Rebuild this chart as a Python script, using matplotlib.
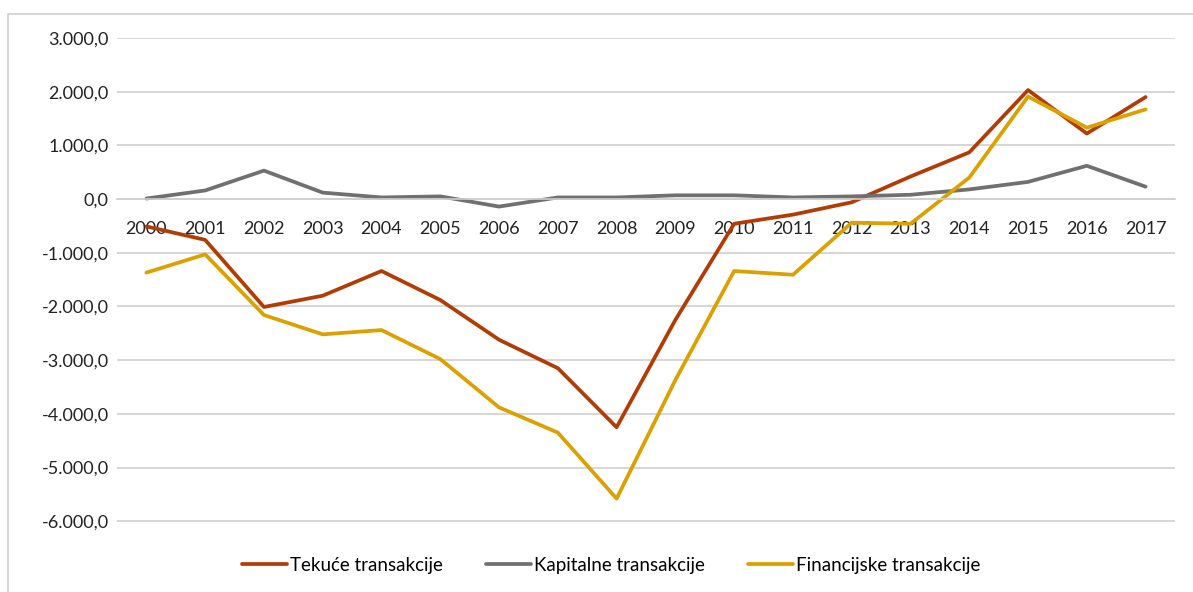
import matplotlib.pyplot as plt
from matplotlib.ticker import FuncFormatter
from matplotlib.patches import Rectangle

plt.rcParams['font.family'] = ['Lato', 'DejaVu Sans']

# data
years = [str(y) for y in range(2000, 2018)]
tekuce = [-510, -760, -2010, -1800, -1340, -1880, -2620, -3150, -4250, -2250,
          -460, -290, -60, 420, 870, 2030, 1220, 1900]
kapitalne = [10, 160, 530, 120, 30, 50, -140, 30, 30, 70,
             70, 30, 50, 80, 180, 320, 620, 230]
financijske = [-1370, -1030, -2160, -2520, -2440, -2980, -3880, -4350, -5580, -3370,
               -1340, -1410, -440, -460, 400, 1910, 1330, 1670]
labels = ['Tekuće transakcije', 'Kapitalne transakcije', 'Financijske transakcije']
colors = ['#B23C05', '#707070', '#DBA100']


def fmt(v, pos):
    s = '{:,.1f}'.format(v)
    return s.replace(',', 'X').replace('.', ',').replace('X', '.')


fig = plt.figure(figsize=(11.93, 5.92), dpi=100)
ax = fig.add_axes([117 / 1193, 1 - 522 / 592, 1058 / 1193, 484 / 592])

x = range(len(years))
for vals, lab, c in zip([tekuce, kapitalne, financijske], labels, colors):
    ax.plot(x, vals, color=c, lw=2.7, label=lab, solid_capstyle='round')

ax.set_xlim(-0.5, len(years) - 0.5)
ax.set_ylim(-6015, 3000)
ax.set_yticks(range(-6000, 3001, 1000))
ax.yaxis.set_major_formatter(FuncFormatter(fmt))
ax.set_xticks(list(x))
ax.set_xticklabels(years)
ax.grid(axis='y', color='#CFCFCF', lw=1.2)
ax.set_axisbelow(True)

for s in ['top', 'right', 'left']:
    ax.spines[s].set_visible(False)
ax.spines['bottom'].set_position(('data', 0))
ax.spines['bottom'].set_color('#CFCFCF')
ax.spines['bottom'].set_linewidth(1.2)
ax.tick_params(axis='x', length=0, pad=16, labelsize=13, colors='#222222')
ax.tick_params(axis='y', length=0, pad=6, labelsize=13, colors='#222222')

fig.legend(loc='center', bbox_to_anchor=(611 / 1193, 1 - 565 / 592), ncol=3,
           frameon=False, fontsize=13.5, handlelength=2.4, columnspacing=2.3,
           handletextpad=0.15)

fig.patches.append(Rectangle((8 / 1193, -0.05), 1.1, 1 - 14 / 592 + 0.05,
                             transform=fig.transFigure, fill=False,
                             edgecolor='#D0D0D0', lw=1.2))

fig.savefig('out.png', dpi=100)
